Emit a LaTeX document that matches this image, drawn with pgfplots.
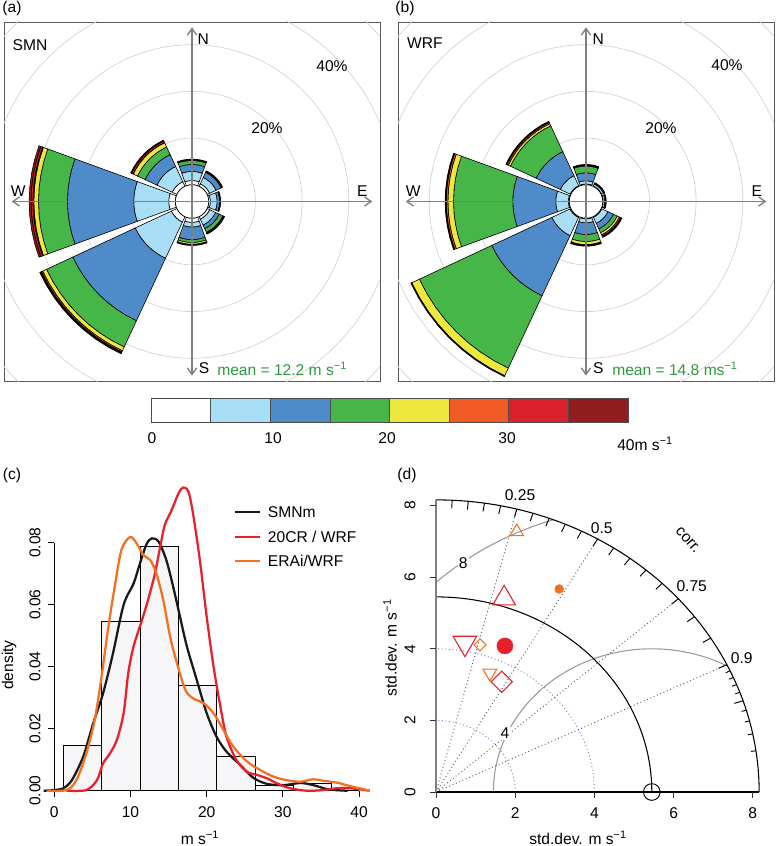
\documentclass[border=0pt]{standalone}
\usepackage{pgfplots}
\pgfplotsset{compat=1.18}
\usepackage{pgfplotstable}
\usepackage{fontspec}
\setmainfont{Liberation Sans}
\usetikzlibrary{arrows.meta}

\definecolor{bin1}{HTML}{FFFFFF}
\definecolor{bin2}{HTML}{A9DEF7}
\definecolor{bin3}{HTML}{508BC9}
\definecolor{bin4}{HTML}{47B649}
\definecolor{bin5}{HTML}{EEE83C}
\definecolor{bin6}{HTML}{F15A24}
\definecolor{bin7}{HTML}{D9202B}
\definecolor{bin8}{HTML}{931C20}
\definecolor{meangreen}{HTML}{2E9A3E}
\definecolor{cRed}{HTML}{E8202A}
\definecolor{cOrange}{HTML}{F37021}
\definecolor{histfill}{HTML}{F6F6F9}
\definecolor{rmsgray}{HTML}{9A9A9A}
\definecolor{sdblue}{HTML}{7A7AC8}

% cumulative percentages per speed bin (0-5,5-10,...,35-40 m/s)
\pgfplotstableread{
dir c0 c1 c2 c3 c4 c5 c6 c7 c8
0   0 0.9 2.85 4.35 5.2 5.25 5.3 5.35 5.5
45  0 0.6 2.1 3.3 3.35 3.4 3.45 3.5 3.65
90  0 0.35 1.8 2.35 2.38 2.41 2.44 2.47 2.55
135 0 0.6 2.0 2.85 3.7 3.9 3.95 4.0 4.1
180 0 0.9 1.9 4.6 5.2 5.6 5.65 5.7 5.85
225 0 1.3 9.85 24.6 30.8 31.7 32.0 32.2 32.4
270 0 1.4 8.9 23.1 29.3 30.3 30.5 30.9 31.3
315 0 1.1 4.7 7.5 9.3 10.3 10.35 10.7 10.9
}\roseSMN

\pgfplotstableread{
dir c0 c1 c2 c3 c4 c5 c6 c7 c8
0   0 0.15 0.85 2.55 4.0 4.05 4.1 4.2 4.35
45  0 0.1 0.55 0.7 0.72 0.74 0.76 0.78 0.85
90  0 0.1 0.45 0.6 0.62 0.64 0.66 0.68 0.75
135 0 0.15 1.6 2.9 3.8 4.3 4.6 4.75 4.9
180 0 0.15 1.0 3.5 5.0 5.65 5.8 5.85 6.0
225 0 0.2 4.5 18.7 35.8 37.6 37.65 37.7 37.8
270 0 0.2 2.9 12.1 24.8 26.0 26.35 26.45 26.6
315 0 0.15 2.5 8.2 14.3 14.8 15.1 15.2 15.35
}\roseWRF

% one annular sector: #1 direction (compass deg), #2 inner %, #3 outer %, #4 colour
\newcommand\seg[4]{%
  \pgfmathsetmacro\Rin{#2+3.58}%
  \pgfmathsetmacro\Rout{#3+3.58}%
  \pgfmathsetmacro\angA{70-#1}\pgfmathsetmacro\angB{75-#1}\pgfmathsetmacro\angC{80-#1}%
  \pgfmathsetmacro\angD{85-#1}\pgfmathsetmacro\angE{90-#1}\pgfmathsetmacro\angF{95-#1}%
  \pgfmathsetmacro\angG{100-#1}\pgfmathsetmacro\angH{105-#1}\pgfmathsetmacro\angI{110-#1}%
  \edef\tmpseg{\noexpand\addplot[fill=#4,draw=black,line width=0.45pt,data cs=polar] coordinates {(\angA,\Rout)(\angB,\Rout)(\angC,\Rout)(\angD,\Rout)(\angE,\Rout)(\angF,\Rout)(\angG,\Rout)(\angH,\Rout)(\angI,\Rout)(\angI,\Rin)(\angH,\Rin)(\angG,\Rin)(\angF,\Rin)(\angE,\Rin)(\angD,\Rin)(\angC,\Rin)(\angB,\Rin)(\angA,\Rin)} -- cycle;}%
  \tmpseg}

\newcommand\drawrose[1]{%
 \foreach \rr in {0,...,7}{%
   \edef\tmpg{\noexpand\pgfplotstablegetelem{\rr}{dir}\noexpand\of\noexpand#1}\tmpg
   \let\rdir\pgfplotsretval
   \foreach \bb in {1,...,8}{%
     \pgfmathtruncatemacro\bp{\bb-1}%
     \edef\tmpg{\noexpand\pgfplotstablegetelem{\rr}{c\bp}\noexpand\of\noexpand#1}\tmpg
     \let\rinp\pgfplotsretval
     \edef\tmpg{\noexpand\pgfplotstablegetelem{\rr}{c\bb}\noexpand\of\noexpand#1}\tmpg
     \let\routp\pgfplotsretval
     \pgfmathtruncatemacro\okseg{(\routp-\rinp)>0.005 ? 1 : 0}%
     \ifnum\okseg=1\relax
       \edef\tmpb{\noexpand\seg{\rdir}{\rinp}{\routp}{bin\bb}}\tmpb
     \fi
   }%
 }%
}

\tikzset{compass/.style={black!50, line width=1pt, -{Straight Barb[length=5pt,width=7pt]}}}

\pgfplotsset{roseaxis/.style={anchor=south west, x=3.5025pt, y=3.5025pt,
  xmin=-40.26, xmax=40.26, ymin=-38.44, ymax=38.44, xtick=\empty, ytick=\empty,
  axis line style={draw=black!65, line width=0.6pt}}}

\begin{document}
\fontsize{11.7}{14}\selectfont
\begin{tikzpicture}
\path[use as bounding box] (0,0) rectangle (582pt,-634.5pt);

% ---------- (a) SMN wind rose
\begin{axis}[roseaxis, at={(3pt,-285.75pt)}]
\pgfplotsinvokeforeach{13.58,23.58,33.58,43.58,53.58}{\draw[black!18, line width=0.5pt] (axis cs:0,0) circle[radius=#1];}
\drawrose{\roseSMN}
\draw[fill=white, line width=0.5pt] (axis cs:0,0) circle[radius=3.58];
\draw[compass] (axis cs:0,0) -- (axis cs:0,37.3);
\draw[compass] (axis cs:0,0) -- (axis cs:0,-37.3);
\draw[compass] (axis cs:0,0) -- (axis cs:38.6,0);
\draw[compass] (axis cs:0,0) -- (axis cs:-38.6,0);
\end{axis}

% ---------- (b) WRF wind rose
\begin{axis}[roseaxis, at={(298.5pt,-285.75pt)}]
\pgfplotsinvokeforeach{13.58,23.58,33.58,43.58,53.58}{\draw[black!18, line width=0.5pt] (axis cs:0,0) circle[radius=#1];}
\drawrose{\roseWRF}
\draw[fill=white, line width=0.5pt] (axis cs:0,0) circle[radius=3.58];
\draw[compass] (axis cs:0,0) -- (axis cs:0,37.3);
\draw[compass] (axis cs:0,0) -- (axis cs:0,-37.3);
\draw[compass] (axis cs:0,0) -- (axis cs:38.6,0);
\draw[compass] (axis cs:0,0) -- (axis cs:-38.6,0);
\end{axis}

% ---------- colour bar
\begin{axis}[anchor=south west, at={(113.25pt,-316.5pt)}, scale only axis, width=357.75pt, height=18pt,
  xmin=0, xmax=40, ymin=0, ymax=1, xtick=\empty, ytick=\empty, axis line style={draw=black!70, line width=0.6pt}]
\addplot[fill=bin1, draw=black!70] coordinates {(0,0)(5,0)(5,1)(0,1)} -- cycle;
\addplot[fill=bin2, draw=black!70] coordinates {(5,0)(10,0)(10,1)(5,1)} -- cycle;
\addplot[fill=bin3, draw=black!70] coordinates {(10,0)(15,0)(15,1)(10,1)} -- cycle;
\addplot[fill=bin4, draw=black!70] coordinates {(15,0)(20,0)(20,1)(15,1)} -- cycle;
\addplot[fill=bin5, draw=black!70] coordinates {(20,0)(25,0)(25,1)(20,1)} -- cycle;
\addplot[fill=bin6, draw=black!70] coordinates {(25,0)(30,0)(30,1)(25,1)} -- cycle;
\addplot[fill=bin7, draw=black!70] coordinates {(30,0)(35,0)(35,1)(30,1)} -- cycle;
\addplot[fill=bin8, draw=black!70] coordinates {(35,0)(40,0)(40,1)(35,1)} -- cycle;
\end{axis}

% ---------- (c) density
\begin{axis}[anchor=south west, at={(40.725pt,-593.025pt)}, scale only axis, width=228.6pt, height=186pt,
  xmin=0, xmax=40, ymin=0, ymax=0.08, clip=false,
  axis x line*=bottom, axis y line*=left, axis line style={-, line width=0.7pt},
  xtick={0,10,20,30,40}, ytick={0,0.02,0.04,0.06,0.08}, xticklabels=\empty, yticklabels=\empty,
  scaled x ticks=false, scaled y ticks=false,
  tick align=outside, major tick length=4.5pt, tick style={black, line width=0.7pt}]
\addplot[ybar interval, fill=histfill, draw=black, line width=0.6pt] coordinates
 {(1.2,0.0147)(6.23,0.0547)(11.26,0.0787)(16.29,0.0339)(21.32,0.0110)(26.35,0.0016)(31.38,0.0023)(36.41,0)};
\addplot[smooth, black!90, line width=1.7pt] coordinates {
 (-1.4,0)(0,0.0002)(1.2,0.0008)(2.3,0.0034)(3.8,0.011)(5.1,0.0217)(6.4,0.0314)(7.7,0.0443)
 (9.1,0.0600)(10.4,0.0668)(11.2,0.073)(12.1,0.0795)(12.8,0.0814)(13.7,0.0803)(14.7,0.0744)
 (15.6,0.0658)(16.5,0.0561)(17.4,0.0465)(18.7,0.0357)(20.0,0.025)(21.3,0.0174)(22.6,0.0126)
 (24.4,0.0083)(26.1,0.0042)(27.9,0.0022)(30.1,0.0018)(32.3,0.0025)(34.0,0.0018)(35.8,0.0005)
 (37.5,0.0001)(38.5,0)};
\addplot[smooth, cRed, line width=1.7pt] coordinates {
 (1.6,0)(4.2,0.0002)(5.6,0.0034)(6.4,0.0088)(7.3,0.012)(8.2,0.0163)(9.1,0.025)(9.7,0.0378)
 (10.4,0.0465)(11.5,0.055)(12.3,0.0615)(13.2,0.070)(13.9,0.0787)(14.5,0.0857)(15.4,0.0905)
 (16.3,0.0959)(16.9,0.0978)(17.6,0.0965)(18.2,0.0895)(19.1,0.0744)(20.0,0.0561)(20.9,0.040)
 (21.8,0.0271)(22.6,0.0174)(23.9,0.0099)(25.3,0.0061)(26.6,0.0051)(27.9,0.004)(29.2,0.0024)
 (30.9,0.0008)(33.1,0)(35.3,0.0002)(37.1,0.0008)(38.8,0.0008)(41.4,0)};
\addplot[smooth, cOrange, line width=1.7pt] coordinates {
 (-1.0,0)(1.6,0.0002)(2.9,0.0034)(4.2,0.012)(5.3,0.0228)(6.2,0.0368)(7.1,0.0529)(8.0,0.0669)
 (8.8,0.0776)(9.7,0.0814)(10.2,0.0817)(10.8,0.0798)(11.7,0.076)(12.6,0.0744)(13.4,0.070)
 (14.3,0.0615)(15.2,0.0497)(16.1,0.0411)(17.2,0.0325)(18.2,0.0298)(19.6,0.0282)(20.9,0.025)
 (22.2,0.0196)(23.5,0.0142)(25.3,0.0094)(27.0,0.0067)(28.8,0.0045)(30.5,0.0034)(32.3,0.0029)
 (34.0,0.0037)(35.3,0.0032)(37.1,0.0026)(38.8,0.0015)(41.4,0)};
\end{axis}

% ---------- (d) Taylor diagram
\begin{axis}[anchor=south west, at={(327pt,-594pt)}, x=29.7pt, y=26.85pt,
  xmin=0, xmax=8.4, ymin=0, ymax=8.4, hide axis, clip=false]
\begin{scope}
\clip (axis cs:0,0) -- (axis cs:8.16,0) arc[start angle=0, end angle=90, radius=8.16] -- cycle;
\draw[rmsgray, line width=0.8pt] (axis cs:5.45,0) circle[radius=4];
\draw[rmsgray, line width=0.8pt] (axis cs:5.45,0) circle[radius=8];
\end{scope}
\draw[sdblue, dotted, line width=0.7pt] (axis cs:2,0) arc[start angle=0, end angle=90, radius=2];
\draw[sdblue, dotted, line width=0.7pt] (axis cs:4,0) arc[start angle=0, end angle=90, radius=4];
\draw[black!65, dotted, line width=0.7pt] (axis cs:0,0) -- (axis cs:2.04,7.90);
\draw[black!65, dotted, line width=0.7pt] (axis cs:0,0) -- (axis cs:4.08,7.067);
\draw[black!65, dotted, line width=0.7pt] (axis cs:0,0) -- (axis cs:6.12,5.397);
\draw[black!65, dotted, line width=0.7pt] (axis cs:0,0) -- (axis cs:7.344,3.557);
\draw[black, line width=0.8pt] (axis cs:5.45,0) arc[start angle=0, end angle=90, radius=5.45];
\draw[black, line width=0.8pt] (axis cs:8.16,0) arc[start angle=0, end angle=90, radius=8.16];
\pgfplotsinvokeforeach{0.05,0.1,0.15,0.2,0.25,0.3,0.35,0.4,0.45,0.5,0.55,0.6,0.65,0.7,0.75,0.8,0.85,0.9,0.95}{%
  \draw[black, line width=0.7pt] (axis cs:{8.16*#1},{8.16*sqrt(1-#1*#1)}) -- (axis cs:{7.93*#1},{7.93*sqrt(1-#1*#1)});}
\pgfplotsinvokeforeach{0.91,0.92,0.93,0.94,0.96,0.97,0.98,0.99}{%
  \draw[black, line width=0.7pt] (axis cs:{8.16*#1},{8.16*sqrt(1-#1*#1)}) -- (axis cs:{8.04*#1},{8.04*sqrt(1-#1*#1)});}
\draw[black, line width=0.8pt] (axis cs:0,0) -- (axis cs:8.16,0);
\draw[black!50, line width=1.5pt] (axis cs:0,0) -- (axis cs:0,8.16);
\pgfplotsinvokeforeach{0,2,4,6,8}{%
  \draw[black!80, line width=0.7pt] (axis cs:#1,0) -- ++(0,-4.5pt);
  \draw[black!80, line width=0.7pt] (axis cs:0,#1) -- ++(-4.5pt,0);}
\addplot[only marks, cOrange, mark=triangle, mark size=5.8pt, mark options={line width=0.8pt}] coordinates {(2.04,7.27)};
\addplot[only marks, cOrange, mark=*, mark size=3.3pt] coordinates {(3.11,5.67)};
\addplot[only marks, cRed, mark=triangle, mark size=9.8pt, mark options={line width=0.8pt}] coordinates {(1.72,5.41)};
\addplot[only marks, cRed, mark=*, mark size=6pt] coordinates {(1.74,4.08)};
\addplot[only marks, cRed, mark=triangle, mark size=10.2pt, mark options={rotate=180, line width=0.8pt}] coordinates {(0.73,4.16)};
\addplot[only marks, cOrange, mark=square, mark size=3.2pt, mark options={rotate=45, line width=0.8pt}] coordinates {(1.11,4.11)};
\addplot[only marks, cOrange, mark=triangle, mark size=6pt, mark options={rotate=180, line width=0.8pt}] coordinates {(1.36,3.32)};
\addplot[only marks, cRed, mark=square, mark size=5.6pt, mark options={rotate=45, line width=0.8pt}] coordinates {(1.66,3.08)};
\addplot[only marks, black, mark=o, mark size=6.25pt, mark options={line width=0.7pt}] coordinates {(5.45,0)};
\end{axis}

% ---------- text
\begin{scope}[x=0.75pt, y=-0.75pt, every node/.style={inner sep=0pt}]
\node at (12,8) {(a)};
\node at (405,8) {(b)};
\node at (30,45) {SMN};
\node at (425,43) {WRF};
\node at (267,128) {20\%};
\node at (332,66) {40\%};
\node at (661,128) {20\%};
\node at (727,65) {40\%};
\node at (203.3,39.3) {N};
\node at (204,368) {S};
\node at (18.3,190.7) {W};
\node at (362.3,190.7) {E};
\node at (598.3,39.3) {N};
\node at (598.3,368.3) {S};
\node at (413.3,190.7) {W};
\node at (756.7,190.7) {E};
\node[anchor=west, text=meangreen] at (217,369) {mean = 12.2 m s\textsuperscript{−1}};
\node[anchor=west, text=meangreen] at (612,369) {mean = 14.8 ms\textsuperscript{−1}};
% colour bar labels
\node at (152,438) {0};
\node at (273,438) {10};
\node at (387,438) {20};
\node at (507,438) {30};
\node[anchor=west] at (617,444) {40m s\textsuperscript{−1}};
% (c)
\node at (12,475) {(c)};
\node[rotate=90] at (9,665) {density};
\node[rotate=90] at (35,790.7) {0.00};
\node[rotate=90] at (35,728.7) {0.02};
\node[rotate=90] at (35,666.7) {0.04};
\node[rotate=90] at (35,604.7) {0.06};
\node[rotate=90] at (35,542.7) {0.08};
\node at (54.3,811.7) {0};
\node at (130.5,811.7) {10};
\node at (206.7,811.7) {20};
\node at (282.9,811.7) {30};
\node at (359.1,811.7) {40};
\node at (200,838) {m s\textsuperscript{−1}};
\draw[black!90, line width=1.7pt] (235,511.7) -- (260,511.7);
\draw[cRed, line width=1.7pt] (235,536.7) -- (260,536.7);
\draw[cOrange, line width=1.7pt] (235,560.7) -- (260,560.7);
\node[anchor=west] at (267.7,511.7) {SMNm};
\node[anchor=west] at (267.7,536.7) {20CR / WRF};
\node[anchor=west] at (267.7,560.7) {ERAi/WRF};
% (d)
\node at (407,475) {(d)};
\node[rotate=90] at (390,648) {std.dev. m s\textsuperscript{−1}};
\node at (578,838) {std.dev. m s\textsuperscript{−1}};
\node[rotate=90] at (410,792) {0};
\node[rotate=90] at (410,720.4) {2};
\node[rotate=90] at (410,648.8) {4};
\node[rotate=90] at (410,577.2) {6};
\node[rotate=90] at (410,505.6) {8};
\node at (436,813) {0};
\node at (515.2,813) {2};
\node at (594.4,813) {4};
\node at (673.6,813) {6};
\node at (752.8,813) {8};
\node at (520,495) {0.25};
\node at (601.7,528.3) {0.5};
\node at (691.7,586) {0.75};
\node at (741.7,658.3) {0.9};
\node[rotate=-49] at (688,540) {corr.};
\node[fill=white, inner sep=1pt] at (463.3,563.3) {8};
\node[fill=white, inner sep=1pt] at (505,733.3) {4};
\end{scope}
\end{tikzpicture}
\end{document}
